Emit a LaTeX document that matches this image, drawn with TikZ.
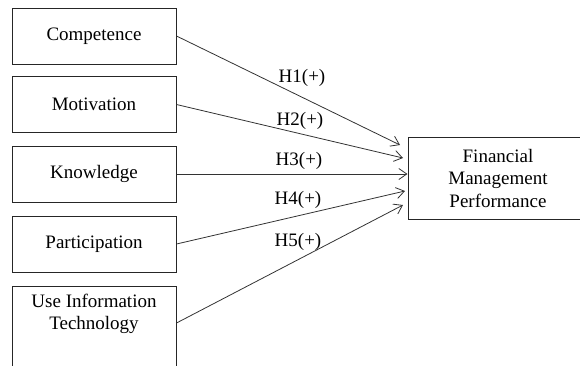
\documentclass[tikz,border=0pt]{standalone}
\usepackage{fontspec}
\setmainfont{Liberation Serif}
\usetikzlibrary{arrows.meta}
\begin{document}
\begin{tikzpicture}[x=1pt,y=-1pt,
  box/.style={draw=black!85, line width=1pt, minimum width=164pt, minimum height=56pt, inner sep=0pt, align=center},
  arr/.style={draw=black!80, line width=0.8pt, -{Straight Barb[length=8pt,width=11pt,line width=0.8pt]}},
  hyp/.style={inner sep=0pt},
  every node/.style={font=\fontsize{19}{22.5}\selectfont}]
\useasboundingbox (0,0) rectangle (580,365);
\clip (0,0) rectangle (580,365);
\node[box] (c) at (94,36) {Competence};
\node[box] (m) at (94,104.5) {Motivation};
\node[box] (k) at (94,174) {Knowledge};
\node[box] (p) at (94,244) {Participation};
\node[box, anchor=north, minimum height=95pt] (u) at (94,286) {};
\node[align=center, inner sep=0pt] (ut) at (94,314) {Use Information\\Technology};
\node[box, minimum width=180pt, minimum height=82pt] (f) at (498,178) {Financial\\Management\\Performance};
\coordinate (t1) at (400,145);
\coordinate (t2) at (403,158);
\coordinate (t4) at (405,191);
\coordinate (t5) at (403,205);
\draw[arr] (c.east) -- (t1);
\draw[arr] (m.east) -- (t2);
\draw[arr] (k.east) -- (k.east -| f.west);
\draw[arr] (p.east) -- (t4);
\draw[arr] ([yshift=-37pt]u.north east) -- (t5);
\node[hyp] (h1) at (302,78) {H1(+)};
\node[hyp] (h2) at (300,121) {H2(+)};
\node[hyp] (h3) at (299,161) {H3(+)};
\node[hyp] (h4) at (298,200) {H4(+)};
\node[hyp] (h5) at (298,242) {H5(+)};
\end{tikzpicture}
\end{document}
